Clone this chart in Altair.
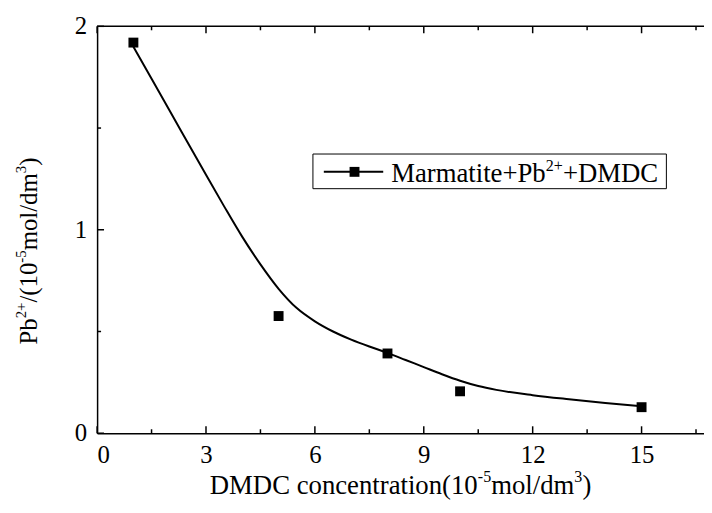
import altair as alt
import pandas as pd

# measured points
conc = [1, 5, 8, 10, 15]
pb = [1.92, 0.576, 0.392, 0.206, 0.128]

# fitted curve
fit_x = [1, 2, 3, 3.5, 4, 4.5, 5, 5.5, 6, 6.5, 7, 7.5, 8, 8.5, 9, 9.5, 10,
         10.5, 11, 12, 13, 14, 15]
fit_y = [1.90, 1.585, 1.27, 1.115, 0.965, 0.83, 0.71, 0.615, 0.55, 0.50,
         0.46, 0.426, 0.395, 0.36, 0.325, 0.29, 0.258, 0.232, 0.213, 0.187,
         0.167, 0.149, 0.133]

x_major = [0, 3, 6, 9, 12, 15]
x_minor = [1.5, 4.5, 7.5, 10.5, 13.5, 16.5]
y_major = [0, 1, 2]
y_labels = ["0", "1", "2"]
y_minor = [0.5, 1.5]

# texts as (text, superscript?) segments
series_name = [("Marmatite+Pb", False), ("2+", True), ("+DMDC", False)]
x_title = [("DMDC concentration(10", False), ("-5", True), ("mol/dm", False),
           ("3", True), (")", False)]
y_title = [("Pb", False), ("2+", True), ("/(10", False), ("-5", True),
           ("mol/dm", False), ("3", True), (")", False)]

W, H = 613, 411
XMAX = 16.72
FONT = "Liberation Serif"
SUP = 0.6      # superscript size ratio
RAISE = 0.42   # superscript raise (em of base size)

# Times / Liberation Serif advance widths (per 1000 em)
ADV = {' ': 250, '(': 333, ')': 333, '+': 564, '-': 333, '/': 278,
       'C': 667, 'D': 722, 'M': 889, 'P': 556, 'a': 444, 'b': 500,
       'c': 444, 'd': 500, 'e': 444, 'i': 278, 'l': 278, 'm': 778,
       'n': 500, 'o': 500, 'r': 333, 't': 278}


def adv(s, size):
    return sum(ADV.get(ch, 500) for ch in s) * size / 1000.0


def total_len(segs, size):
    return sum(adv(t, size * SUP if sup else size) for t, sup in segs)


dummy = pd.DataFrame({"a": [0]})


def rich_text(segs, size, x0, y0, vertical=False):
    """Lay out base/superscript segments starting at (x0, y0) baseline."""
    layers = []
    pos = 0.0
    for t, sup in segs:
        fs = size * SUP if sup else size
        lift = size * RAISE if sup else 0.0
        if vertical:
            px, py = x0 - lift, y0 - pos
            mk = alt.Chart(dummy).mark_text(angle=270, align="left",
                                            baseline="alphabetic", font=FONT,
                                            fontSize=fs, color="black")
        else:
            px, py = x0 + pos, y0 - lift
            mk = alt.Chart(dummy).mark_text(align="left", baseline="alphabetic",
                                            font=FONT, fontSize=fs,
                                            color="black")
        layers.append(mk.encode(x=alt.value(px), y=alt.value(py),
                                text=alt.value(t)))
        pos += adv(t, fs)
    return layers


xs = alt.Scale(domain=[0, XMAX], nice=False, zero=False)
ys = alt.Scale(domain=[0, 2], nice=False)

x_axis = alt.Axis(values=x_major, format="d", ticks=False, grid=False,
                  domainWidth=1.5, domainColor="black", labelFont=FONT,
                  labelFontSize=25, labelColor="black", labelPadding=10,
                  labelOverlap=False, title="")
y_axis = alt.Axis(values=y_major, ticks=False, grid=False, labels=False,
                  domainWidth=1.5, domainColor="black", title="")

pts_df = pd.DataFrame({"x": conc, "y": pb})
fit_df = pd.DataFrame({"x": fit_x, "y": fit_y})

curve = alt.Chart(fit_df).mark_line(color="black", strokeWidth=2,
                                    interpolate="monotone").encode(
    x=alt.X("x:Q", scale=xs, axis=x_axis),
    y=alt.Y("y:Q", scale=ys, axis=y_axis),
)
points = alt.Chart(pts_df).mark_square(size=100, color="black", opacity=1).encode(
    x=alt.X("x:Q", scale=xs, axis=x_axis),
    y=alt.Y("y:Q", scale=ys, axis=y_axis),
)

top_line = alt.Chart(dummy).mark_rule(color="black", strokeWidth=1.5).encode(
    x=alt.value(0), x2=alt.value(W), y=alt.value(0))


def xticks(vals, length, top):
    df = pd.DataFrame({"x": vals})
    if top:
        yy, yy2 = 0, length
    else:
        yy, yy2 = H, H - length
    return alt.Chart(df).mark_rule(color="black", strokeWidth=1.5).encode(
        x=alt.X("x:Q", scale=xs, axis=x_axis), y=alt.value(yy), y2=alt.value(yy2))


def yticks(vals, length):
    df = pd.DataFrame({"y": vals})
    return alt.Chart(df).mark_rule(color="black", strokeWidth=1.5).encode(
        y=alt.Y("y:Q", scale=ys, axis=y_axis), x=alt.value(0), x2=alt.value(length))


ylab_df = pd.DataFrame({"y": y_major, "lab": y_labels})
y_tick_labels = alt.Chart(ylab_df).mark_text(
    align="right", baseline="middle", font=FONT, fontSize=25, color="black"
).encode(y=alt.Y("y:Q", scale=ys, axis=y_axis), x=alt.value(-10),
         text="lab:N")

legend_box = alt.Chart(dummy).mark_rect(fill="white", stroke="black",
                                        strokeWidth=1).encode(
    x=alt.value(218), x2=alt.value(575), y=alt.value(129), y2=alt.value(164))
legend_line = alt.Chart(dummy).mark_rule(color="black", strokeWidth=2).encode(
    x=alt.value(229), x2=alt.value(289), y=alt.value(147))
legend_sym = alt.Chart(dummy).mark_square(size=100, color="black", opacity=1).encode(
    x=alt.value(260), y=alt.value(147))

LEG_FS, XT_FS, YT_FS = 27, 27, 25
legend_txt = rich_text(series_name, LEG_FS, 297, 157)
xt_len = total_len(x_title, XT_FS)
x_title_layers = rich_text(x_title, XT_FS, W / 2 - xt_len / 2, 472)
yt_len = total_len(y_title, YT_FS)
y_title_layers = rich_text(y_title, YT_FS, -61, 227 + yt_len / 2, vertical=True)

chart = alt.layer(
    curve, points, top_line,
    xticks(x_major, 7, False), xticks(x_minor, 4, False),
    xticks(x_major, 7, True), xticks(x_minor, 4, True),
    yticks(y_major, 7), yticks(y_minor, 4), y_tick_labels,
    legend_box, legend_line, legend_sym,
    *legend_txt, *x_title_layers, *y_title_layers,
).properties(
    width=W, height=H,
    autosize=alt.AutoSizeParams(type="none"),
    padding={"left": 90, "top": 16, "right": 0, "bottom": 70},
    background="white",
).configure_view(stroke=None)

chart.save("out.html", embed_options={"renderer": "svg", "actions": False})
